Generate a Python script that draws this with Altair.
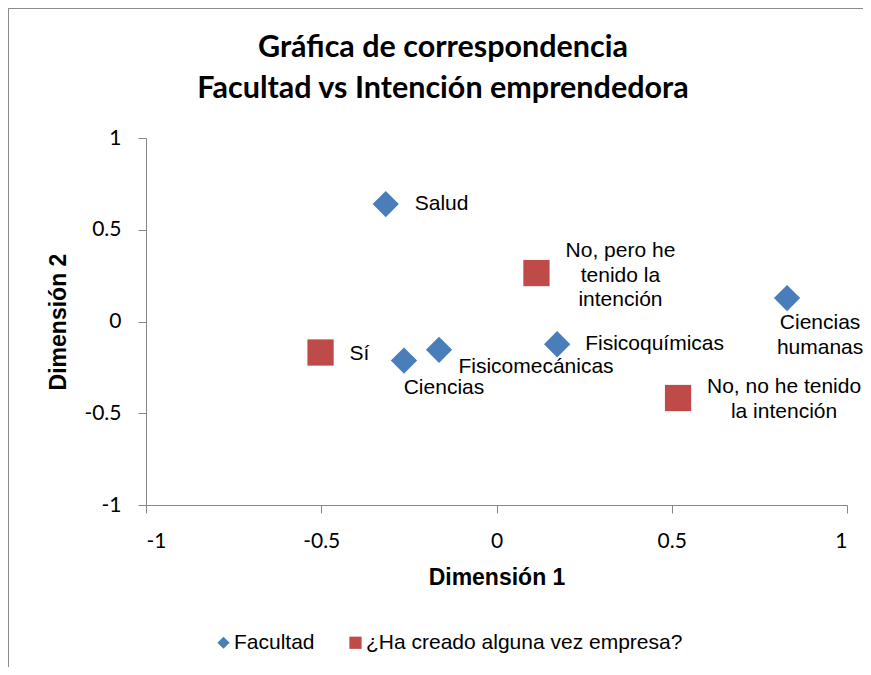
import altair as alt
import pandas as pd

# ---- data ----
series_names = ["Facultad", "¿Ha creado alguna vez empresa?"]

facultad_labels = ["Salud", "Ciencias", "Fisicomecánicas", "Fisicoquímicas", "Ciencias\nhumanas"]
facultad_dim1 = [-0.316, -0.264, -0.164, 0.173, 0.829]
facultad_dim2 = [0.640, -0.213, -0.154, -0.124, 0.128]

empresa_labels = ["Sí", "No, pero he\ntenido la\nintención", "No, no he tenido\nla intención"]
empresa_dim1 = [-0.502, 0.114, 0.518]
empresa_dim2 = [-0.169, 0.264, -0.417]

axis_ticks = [-1, -0.5, 0, 0.5, 1]

# label placement (align, dx, dy of first line) – styling only
label_style = {
    "Salud": ("left", 29, 0),
    "Ciencias": ("center", 40, 27),
    "Fisicomecánicas": ("center", 97, 17),
    "Fisicoquímicas": ("left", 28, 0),
    "Ciencias\nhumanas": ("center", 33, 25),
    "Sí": ("left", 29, 1),
    "No, pero he\ntenido la\nintención": ("center", 84, -22),
    "No, no he tenido\nla intención": ("center", 106, -11),
}

rows = []
for lab, a, b in zip(facultad_labels, facultad_dim1, facultad_dim2):
    rows.append({"serie": series_names[0], "label": lab, "d1": a, "d2": b})
for lab, a, b in zip(empresa_labels, empresa_dim1, empresa_dim2):
    rows.append({"serie": series_names[1], "label": lab, "d1": a, "d2": b})
df = pd.DataFrame(rows)

blue = "#4A7EBB"
red = "#BE4B48"
axis_gray = "#868686"

x_enc = alt.X(
    "d1:Q",
    scale=alt.Scale(domain=[-1, 1], nice=False, zero=False),
    axis=alt.Axis(
        values=axis_ticks,
        labelExpr="datum.value + ''",
        title="Dimensión 1",
        titleX=350.5,
        titleY=72,
        titleBaseline="middle",
        titleAlign="center",
    ),
)
y_enc = alt.Y(
    "d2:Q",
    scale=alt.Scale(domain=[-1, 1], nice=False, zero=False),
    axis=alt.Axis(
        values=axis_ticks,
        labelExpr="datum.value + ''",
        title="Dimensión 2",
        titleX=-88,
        titleY=183.5,
        titleAngle=270,
        titleBaseline="middle",
        titleAlign="center",
    ),
)

base = alt.Chart(df)

points = base.mark_point(filled=True, opacity=1, size=690, strokeWidth=0).encode(
    x=x_enc,
    y=y_enc,
    color=alt.Color(
        "serie:N",
        scale=alt.Scale(domain=series_names, range=[blue, red]),
        legend=alt.Legend(title=None),
    ),
    shape=alt.Shape(
        "serie:N",
        scale=alt.Scale(domain=series_names, range=["diamond", "square"]),
        legend=alt.Legend(title=None),
    ),
)

text_layers = []
for lab, (align, dx, dy) in label_style.items():
    t = (
        base.transform_filter(alt.datum.label == lab)
        .transform_calculate(lines="split(datum.label, '\\n')")
        .mark_text(
            align=align,
            baseline="middle",
            dx=dx,
            dy=dy,
            font="Liberation Sans",
            fontSize=21,
            lineHeight=24.5,
            color="black",
        )
        .encode(x="d1:Q", y="d2:Q", text="lines:N")
    )
    text_layers.append(t)

frame_df = pd.DataFrame({"k": [0]})
frame_left = alt.Chart(frame_df).mark_rule(color="#8C8C8C", strokeWidth=1).encode(
    x=alt.value(-137.5), y=alt.value(-129.5), y2=alt.value(540)
)
frame_top = alt.Chart(frame_df).mark_rule(color="#8C8C8C", strokeWidth=1).encode(
    x=alt.value(-138), x2=alt.value(725), y=alt.value(-129.5)
)

chart = (
    alt.layer(frame_left, frame_top, points, *text_layers)
    .properties(
        width=701,
        height=367,
        autosize=alt.AutoSizeParams(type="none"),
        padding={"left": 138, "top": 130, "right": 16, "bottom": 162},
        title=alt.TitleParams(
            text=["Gráfica de correspondencia", "Facultad vs Intención emprendedora"],
            anchor="middle",
            frame="group",
            font="Lato",
            fontSize=30.5,
            fontWeight="bold",
            color="black",
            lineHeight=40.5,
            baseline="alphabetic",
            dx=-53.5,
            offset=0,
            dy=120,
        ),
    )
    .configure_view(stroke=None)
    .configure_axis(
        grid=False,
        domainColor=axis_gray,
        domainWidth=1,
        tickColor=axis_gray,
        tickSize=8,
        labelPadding=17,
        labelFont="Lato",
        labelFontSize=21,
        labelColor="black",
        titleFont="Liberation Sans",
        titleFontSize=23,
        titleFontWeight="bold",
        titleColor="black",
    )
    .configure_legend(
        orient="none",
        legendX=67,
        legendY=494,
        direction="horizontal",
        symbolSize=150,
        symbolStrokeWidth=0,
        labelFont="Liberation Sans",
        labelFontSize=21,
        labelColor="black",
        labelOffset=0,
        labelLimit=500,
        columnPadding=30,
        padding=0,
    )
)

chart.save("out.html", embed_options={"renderer": "svg", "actions": False})
